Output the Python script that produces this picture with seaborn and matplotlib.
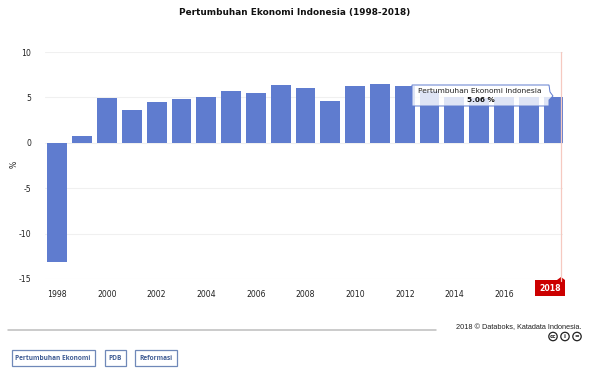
import matplotlib
matplotlib.use("Agg")
import matplotlib.pyplot as plt
from matplotlib.patches import Rectangle, Polygon, Circle
import seaborn as sns
import pandas as pd

years = [str(y) for y in range(1998, 2019)]
growth = [-13.13, 0.79, 4.92, 3.64, 4.50, 4.78, 5.03, 5.69, 5.50, 6.35, 6.01,
          4.63, 6.22, 6.49, 6.26, 5.73, 5.02, 4.88, 5.03, 5.07, 5.06]
y_ticks = [-15, -10, -5, 0, 5, 10]
title = "Pertumbuhan Ekonomi Indonesia (1998-2018)"
tooltip_name = "Pertumbuhan Ekonomi Indonesia"
tooltip_value = "5.06 %"
footer = "2018 © Databoks, Katadata Indonesia."
tags = ["Pertumbuhan Ekonomi", "PDB", "Reformasi"]

W, H = 600, 380
sns.set_theme(style="white")
plt.rcParams["font.family"] = ["DejaVu Sans"]
plt.rcParams["axes.unicode_minus"] = False
fig = plt.figure(figsize=(W / 100, H / 100), dpi=100, facecolor="white")
ax = fig.add_axes([45 / W, 1 - 279 / H, (563 - 45) / W, (279 - 52) / H])

df = pd.DataFrame({"year": years, "growth": growth})
sns.barplot(data=df, x="year", y="growth", color="#5f7ccf", saturation=1,
            width=0.8, ax=ax, order=years, linewidth=0, edgecolor="none")
ax.set_xlim(-0.5, 20.38)
ax.set_ylim(-15, 10)
ax.set_yticks(y_ticks)
ax.set_xticks(range(0, 20, 2))
ax.set_xticklabels(years[:20:2])
ax.tick_params(axis="both", length=0, labelsize=5.6, labelcolor="#222222")
ax.tick_params(axis="x", pad=8)
ax.tick_params(axis="y", pad=10)
ax.set_xlabel("")
ax.set_ylabel("")
ax.grid(axis="y", color="#f0f0f0", linewidth=0.8)
ax.set_axisbelow(True)
for s in ax.spines.values():
    s.set_visible(False)

# overlay in pixel coordinates for page furniture
ov = fig.add_axes([0, 0, 1, 1], facecolor="none")
ov.set_xlim(0, W)
ov.set_ylim(H, 0)
ov.axis("off")

ov.text(295, 13, title, ha="center", va="center", fontsize=6.4, fontweight="bold", color="#111111")
ov.text(14.5, 164, "%", ha="center", va="center", rotation=90, fontsize=5.6, color="#222222")

# crosshair and its label
ov.plot([561, 561], [52, 281], color="#f6c9c0", lw=0.9)
ov.add_patch(Rectangle((535, 280), 30, 16, fc="#cc0000", ec="none"))
ov.add_patch(Polygon([[557, 280], [561, 277], [565, 280]], fc="#cc0000", ec="none"))
ov.text(550, 288.5, years[-1], ha="center", va="center", fontsize=5.6, fontweight="bold", color="white")

# tooltip
ov.add_patch(Polygon([[412, 85], [549, 85], [550, 92], [553, 96], [549, 100], [549, 106], [412, 106]],
                     closed=True, fc=(1, 1, 1, 0.8), ec="#5f7ccf", lw=0.7))
ov.text(480, 91, tooltip_name, ha="center", va="center", fontsize=5.4, color="#222222")
ov.text(480.5, 99.5, tooltip_value, ha="center", va="center", fontsize=5.2, fontweight="bold", color="#111111")

# footer
ov.plot([8, 436], [329.5, 329.5], color="#bdbdbd", lw=1.1)
ov.text(582, 327.5, footer, ha="right", va="center", fontsize=5.3, family="Liberation Sans", color="#222222")
for cx, s in zip([553, 565, 577], ["cc", "i", "="]):
    ov.add_patch(Circle((cx, 336.5), 4.2, fc="white", ec="#222222", lw=0.9))
    ov.text(cx, 336.3, s, ha="center", va="center", fontsize=4.0, fontweight="bold", color="#222222")

# tag buttons
for (x0, x1), tag in zip([(11.5, 94.5), (104.5, 125.5), (135, 176.5)], tags):
    ov.add_patch(Rectangle((x0, 350), x1 - x0, 16, fc="white", ec="#6f88b8", lw=0.9))
    ov.text((x0 + x1) / 2, 358.3, tag, ha="center", va="center", fontsize=4.7,
            family="Open Sans", fontweight="bold", color="#3f5c94")

fig.savefig("out.png", dpi=100, facecolor="white")
